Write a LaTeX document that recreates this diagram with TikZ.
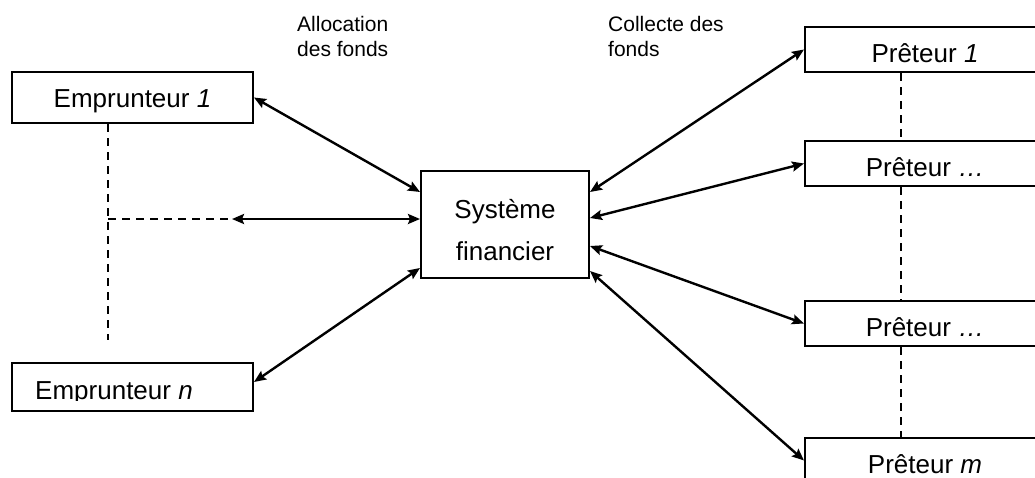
\documentclass[tikz,border=0pt]{standalone}
\usepackage{fontspec}
\setmainfont{Liberation Sans}
\usetikzlibrary{arrows.meta,calc}
\begin{document}
\begin{tikzpicture}[x=1pt,y=-1pt,
 box/.style={draw,line width=2pt,inner sep=0pt,minimum width=241pt,font=\fontsize{26}{31}\selectfont},
 pbox/.style={box,minimum width=240pt,minimum height=45pt,text height=25pt,text depth=0pt},
 link/.style={line width=2.4pt,{Stealth[length=12pt,width=10pt,inset=2pt]}-{Stealth[length=12pt,width=10pt,inset=2pt]}},
 dashline/.style={line width=1.6pt,dash pattern=on 8pt off 6pt},
 lbl/.style={font=\fontsize{21}{25}\selectfont,align=left,inner sep=0pt,anchor=north west}]
\useasboundingbox (0,0) rectangle (1035,477);
% borrowers
\node[box,minimum height=51pt,text height=19pt,text depth=0pt] (e1) at (132.5,97.5) {Emprunteur \textit{1}};
\node[box,minimum height=48pt] (en) at (132.5,387) {};
\begin{scope}
\clip (0,363) rectangle (260,400.5);
\node[font=\fontsize{26}{31}\selectfont,inner sep=0pt,anchor=base] (entext) at (114,399.5) {Emprunteur \textit{n}};
\end{scope}
% financial system
\node[box,minimum width=168pt,minimum height=107pt,align=center,font=\fontsize{26}{42}\selectfont] (sys) at (505,224.5) {\rule{0pt}{30pt}Système\\financier};
% lenders
\node[pbox] (p1) at (925,49.5) {Prêteur \textit{1}};
\node[pbox] (p2) at (925,163.5) {Prêteur \textit{…}};
\node[pbox] (p3) at (925,323.5) {Prêteur \textit{…}};
\node[pbox] (p4) at (925,460.5) {Prêteur \textit{m}};
% labels
\node[lbl] (alloc) at (297,16) {Allocation\\des fonds};
\node[lbl] (coll) at (608,16) {Collecte des\\fonds};
% dashed lines left
\coordinate (j) at (108,219);
\coordinate (jb) at (108,340);
\coordinate (t) at (232,219);
\draw[dashline] (j |- e1.south) -- (jb);
\draw[dashline] (j) -- (t);
% arrows left
\draw[link] (t) -- (sys.west |- t);
\draw[link] (e1.east) -- ([yshift=-22pt]sys.north west);
\draw[link] ([yshift=5pt]en.east) -- ([yshift=11pt]sys.south west);
% arrows right
\draw[link] ([yshift=-22pt]sys.north east) -- (p1.west);
\draw[link] ([yshift=-48pt]sys.north east) -- (p2.west);
\draw[link] ([yshift=33pt]sys.south east) -- (p3.west);
\draw[link] ([yshift=8pt]sys.south east) -- (p4.west);
% dashed lines right
\draw[dashline] ([xshift=-24pt]p1.south) -- ([xshift=-24pt]p2.north);
\draw[dashline] ([xshift=-24pt]p2.south) -- ([xshift=-24pt]p3.north);
\draw[dashline] ([xshift=-24pt]p3.south) -- ([xshift=-24pt]p4.north);
\end{tikzpicture}
\end{document}
